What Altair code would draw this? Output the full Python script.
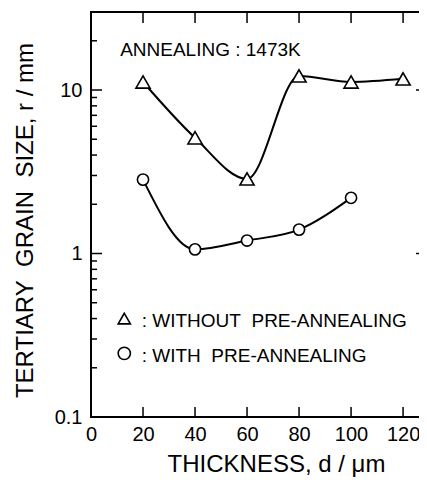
import altair as alt
import pandas as pd

# ---- data ----
thickness_without = [20, 40, 60, 80, 100, 120]
grain_without = [11.2, 5.1, 2.86, 12.2, 11.2, 11.7]
thickness_with = [20, 40, 60, 80, 100]
grain_with = [2.83, 1.06, 1.20, 1.40, 2.19]

x_label_values = [0, 20, 40, 60, 80, 100, 120]
x_tick_values = [20, 40, 60, 80, 100, 120]
y_major_values = [0.1, 1, 10]
y_minor_values = [0.2, 0.3, 0.4, 0.5, 0.6, 0.7, 0.8, 0.9,
                  2, 3, 4, 5, 6, 7, 8, 9, 20]

annotation_text = ["ANNEALING : 1473K"]
annotation_x = [11.2]
annotation_y = [17.5]

legend_labels = [":\u00a0WITHOUT\u00a0\u00a0PRE-ANNEALING", ":\u00a0WITH\u00a0\u00a0PRE-ANNEALING"]
legend_shapes = ["triangle-up", "circle"]
legend_marker_x = [12.8, 12.8]
legend_marker_y = [0.40, 0.245]
legend_text_x = [19.5, 19.5]
legend_text_y = [0.385, 0.236]

# ---- layout ----
FONT = "Liberation Sans"
W, H = 336, 405
XMAX = 129.2

xs = alt.Scale(domain=[0, XMAX], nice=False, zero=False)
ys = alt.Scale(type="log", domain=[0.1, 30], nice=False)

x_axis = alt.Axis(values=x_label_values, title="THICKNESS, d / \u03bcm", ticks=False,
                  domain=False, grid=False, labelFont=FONT, labelFontSize=20,
                  labelColor="black", labelPadding=7, titleFont=FONT, titleFontSize=24,
                  titleFontWeight="normal", titleColor="black", titleX=185, titleY=54,
                  titleBaseline="alphabetic", labelFlush=False)
y_axis = alt.Axis(values=y_major_values, format="~g",
                  title="TERTIARY\u00a0\u00a0GRAIN\u00a0\u00a0SIZE,\u00a0r\u00a0/\u00a0mm",
                  ticks=False, domain=False, grid=False, labelFont=FONT, labelFontSize=20,
                  labelColor="black", labelPadding=9, titleFont=FONT, titleFontSize=24,
                  titleFontWeight="normal", titleColor="black", titleX=-59, titleY=208,
                  titleBaseline="alphabetic", titleAlign="center", labelFlush=False)


def X(field):
    return alt.X(field, scale=xs, axis=x_axis)


def Y(field):
    return alt.Y(field, scale=ys, axis=y_axis)


df_wo = pd.DataFrame({"d": thickness_without, "r": grain_without})
df_w = pd.DataFrame({"d": thickness_with, "r": grain_with})

line_wo = alt.Chart(df_wo).mark_line(interpolate="monotone", color="black", strokeWidth=2).encode(
    x=X("d:Q"), y=Y("r:Q"))
line_w = alt.Chart(df_w).mark_line(interpolate="monotone", color="black", strokeWidth=2).encode(
    x=X("d:Q"), y=Y("r:Q"))
pts_wo = alt.Chart(df_wo).mark_point(shape="triangle-up", size=200, filled=True, fill="white",
                                     stroke="black", strokeWidth=1.6, opacity=1).encode(
    x=X("d:Q"), y=Y("r:Q"))
pts_w = alt.Chart(df_w).mark_point(shape="circle", size=125, filled=True, fill="white",
                                   stroke="black", strokeWidth=1.6, opacity=1).encode(
    x=X("d:Q"), y=Y("r:Q"))

df_ymaj = pd.DataFrame({"v": y_major_values})
df_ymin = pd.DataFrame({"v": y_minor_values})
df_xt = pd.DataFrame({"v": x_tick_values})


def yticks(df, x0, x1):
    return alt.Chart(df).mark_rule(color="black", strokeWidth=1.5).encode(
        y=Y("v:Q"), x=alt.value(x0), x2=alt.value(x1))


def xticks(df, y0, y1):
    return alt.Chart(df).mark_rule(color="black", strokeWidth=1.5).encode(
        x=X("v:Q"), y=alt.value(y0), y2=alt.value(y1))


ticks = [
    yticks(df_ymaj, 0, 11), yticks(df_ymin, 0, 6),
    yticks(df_ymaj, W, W - 11), yticks(df_ymin, W, W - 6),
    xticks(df_xt, 0, 11), xticks(df_xt, H, H - 10),
]

df_ann = pd.DataFrame({"x": annotation_x, "y": annotation_y, "t": annotation_text})
ann = alt.Chart(df_ann).mark_text(align="left", baseline="middle", font=FONT, fontSize=19,
                                  color="black").encode(
    x=X("x:Q"), y=Y("y:Q"), text="t:N")

df_leg = pd.DataFrame({"mx": legend_marker_x, "my": legend_marker_y, "tx": legend_text_x,
                       "ty": legend_text_y, "t": legend_labels, "s": legend_shapes})
leg_pts = alt.Chart(df_leg).mark_point(filled=True, fill="white", stroke="black",
                                       strokeWidth=1.6, opacity=1, size=150).encode(
    x=X("mx:Q"), y=Y("my:Q"),
    shape=alt.Shape("s:N", scale=alt.Scale(domain=legend_shapes, range=legend_shapes), legend=None))
leg_txt = alt.Chart(df_leg).mark_text(align="left", baseline="middle", font=FONT, fontSize=19,
                                      color="black").encode(
    x=X("tx:Q"), y=Y("ty:Q"), text="t:N")

chart = alt.layer(line_wo, line_w, *ticks, pts_wo, pts_w, ann, leg_pts, leg_txt).properties(
    width=W, height=H,
    autosize=alt.AutoSizeParams(type="none"),
    padding={"left": 83, "top": 4, "right": -8, "bottom": 60},
).configure_view(stroke="black", strokeWidth=2)

chart.save("out.html", embed_options={"renderer": "svg", "actions": False})
